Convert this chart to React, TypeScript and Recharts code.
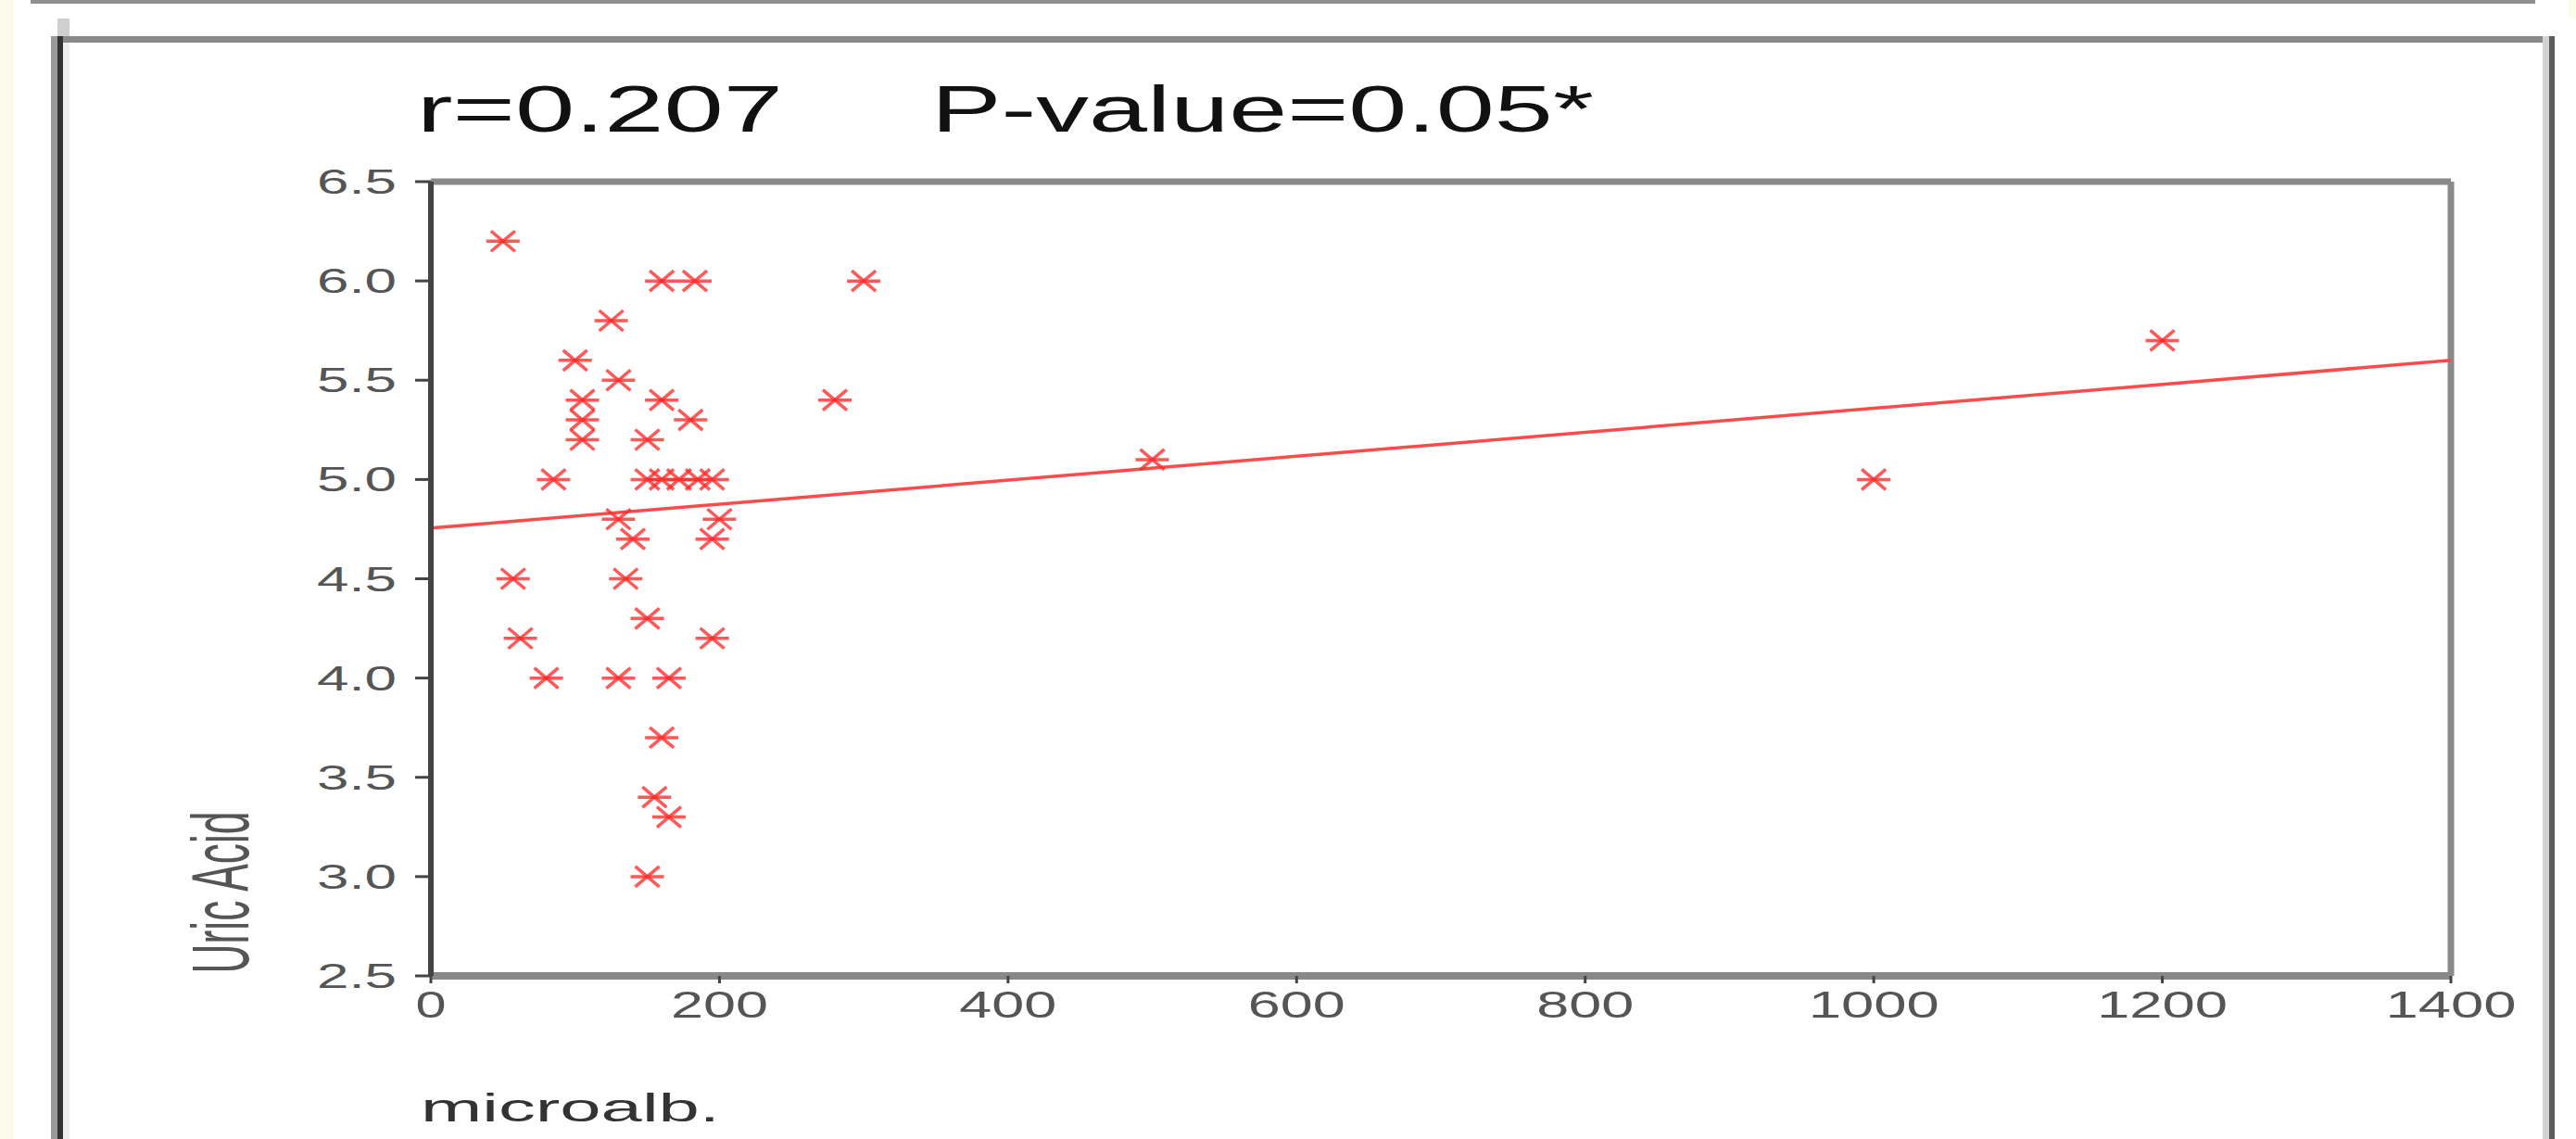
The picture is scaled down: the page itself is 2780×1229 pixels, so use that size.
import React from "react";
import { ReferenceLine, Scatter, ScatterChart, XAxis, YAxis } from "recharts";

// microalb. (x) vs Uric Acid (y)
const microalb = [
  50, 160, 183, 300, 125, 100, 130, 105, 160, 280, 105, 180, 105, 150, 500, 85, 150, 160, 172, 185,
  195, 1000, 130, 200, 140, 195, 1200, 57, 135, 150, 62, 195, 80, 130, 165, 160, 155, 165, 150,
];
const uricAcid = [
  6.2, 6.0, 6.0, 6.0, 5.8, 5.6, 5.5, 5.4, 5.4, 5.4, 5.3, 5.3, 5.2, 5.2, 5.1, 5.0, 5.0, 5.0, 5.0, 5.0,
  5.0, 5.0, 4.8, 4.8, 4.7, 4.7, 5.7, 4.5, 4.5, 4.3, 4.2, 4.2, 4.0, 4.0, 4.0, 3.7, 3.4, 3.3, 3.0,
];
// fitted regression line ends
const fitX = [0, 1400];
const fitY = [4.755, 5.6];

const xTicks = [0, 200, 400, 600, 800, 1000, 1200, 1400];
const yTicks = [2.5, 3.0, 3.5, 4.0, 4.5, 5.0, 5.5, 6.0, 6.5];

const points = microalb.map((x, i) => ({ x, y: uricAcid[i] }));
const fitSegment = fitX.map((x, i) => ({ x, y: fitY[i] }));

const W = 2780;
const H = 1229;
const FONT = "'Liberation Sans', Arial, sans-serif";
const RED = "#ff2e2e";

function XTick({ x, y, payload }: any) {
  const label = String(payload.value);
  return (
    <text
      x={x}
      y={y + 28}
      textAnchor="middle"
      fontSize={40}
      fontFamily={FONT}
      fill="#555"
      textLength={label.length * 36 - 3}
      lengthAdjust="spacingAndGlyphs"
    >
      {label}
    </text>
  );
}

function YTick({ x, y, payload }: any) {
  const label = Number(payload.value).toFixed(1);
  return (
    <text
      x={x}
      y={y + 13}
      textAnchor="end"
      fontSize={36}
      fontFamily={FONT}
      fill="#555"
      textLength={86}
      lengthAdjust="spacingAndGlyphs"
    >
      {label}
    </text>
  );
}

// the stretched "asterisk" marker used by the stats package
function Star({ cx, cy }: any) {
  if (cx == null || cy == null) return <g />;
  return (
    <g stroke={RED} strokeWidth={3.5} strokeOpacity={0.8} fill="none">
      <line x1={cx - 18} y1={cy} x2={cx + 18} y2={cy} />
      <line x1={cx - 13} y1={cy - 11} x2={cx + 13} y2={cy + 11} />
      <line x1={cx - 13} y1={cy + 11} x2={cx + 13} y2={cy - 11} />
    </g>
  );
}

function Frame() {
  return (
    <svg width={W} height={H} style={{ position: "absolute", left: 0, top: 0 }}>
      <rect x={0} y={0} width={W} height={H} fill="#fbfbeb" />
      <rect x={15} y={0} width={W - 15} height={H} fill="#ffffff" />
      <rect x={2772} y={0} width={8} height={20} fill="#fbfbeb" />
      {/* outer rules */}
      <rect x={33} y={0} width={2703} height={4} fill="#8f8f8f" />
      <rect x={62} y={20} width={13} height={19} fill="#cfcfcf" />
      <rect x={55} y={39} width={2702} height={7} fill="#8a8a8a" />
      <rect x={55} y={39} width={7} height={H - 39} fill="#9a9a9a" />
      <rect x={62} y={39} width={6} height={H - 39} fill="#333" />
      <rect x={68} y={46} width={7} height={H - 46} fill="#eeeeee" />
      <rect x={2744} y={39} width={7} height={H - 39} fill="#d3d3d3" />
      <rect x={2751} y={39} width={6} height={H - 39} fill="#5c5c5c" />
      {/* titles */}
      <text x={450} y={142} fontSize={70} fontFamily={FONT} fill="#111" textLength={395} lengthAdjust="spacingAndGlyphs">
        r=0.207
      </text>
      <text x={1005} y={142} fontSize={70} fontFamily={FONT} fill="#111" textLength={715} lengthAdjust="spacingAndGlyphs">
        P-value=0.05*
      </text>
      <text
        transform="translate(268,963) rotate(-90)"
        textAnchor="middle"
        fontSize={88}
        fontFamily={FONT}
        fill="#555"
        textLength={175}
        lengthAdjust="spacingAndGlyphs"
      >
        Uric Acid
      </text>
      <text x={454} y={1210} fontSize={42} fontFamily={FONT} fill="#333" textLength={323} lengthAdjust="spacingAndGlyphs">
        microalb.
      </text>
    </svg>
  );
}

export default function App() {
  return (
    <div style={{ position: "absolute", left: 0, top: 0, width: W, height: H, overflow: "hidden" }}>
      <Frame />
      <div style={{ position: "absolute", left: 0, top: 0 }}>
        <ScatterChart width={W} height={H} margin={{ top: 196, right: 135, bottom: 116, left: 265 }}>
          <XAxis
            type="number"
            dataKey="x"
            domain={[0, 1400]}
            ticks={xTicks}
            height={60}
            tickSize={8}
            tickMargin={9}
            axisLine={{ stroke: "#888", strokeWidth: 8 }}
            tickLine={{ stroke: "#444", strokeWidth: 3 }}
            tick={<XTick />}
            interval={0}
          />
          <YAxis
            type="number"
            dataKey="y"
            domain={[2.5, 6.5]}
            ticks={yTicks}
            width={200}
            tickSize={17}
            tickMargin={20}
            axisLine={{ stroke: "#444", strokeWidth: 6 }}
            tickLine={{ stroke: "#444", strokeWidth: 3 }}
            tick={<YTick />}
            interval={0}
          />
          <ReferenceLine y={6.5} stroke="#8a8a8a" strokeWidth={7} />
          <ReferenceLine x={1400} stroke="#8a8a8a" strokeWidth={7} />
          <ReferenceLine segment={fitSegment} stroke="#ff4a4a" strokeWidth={3.5} ifOverflow="visible" />
          <Scatter data={points} shape={<Star />} isAnimationActive={false} />
        </ScatterChart>
      </div>
    </div>
  );
}
